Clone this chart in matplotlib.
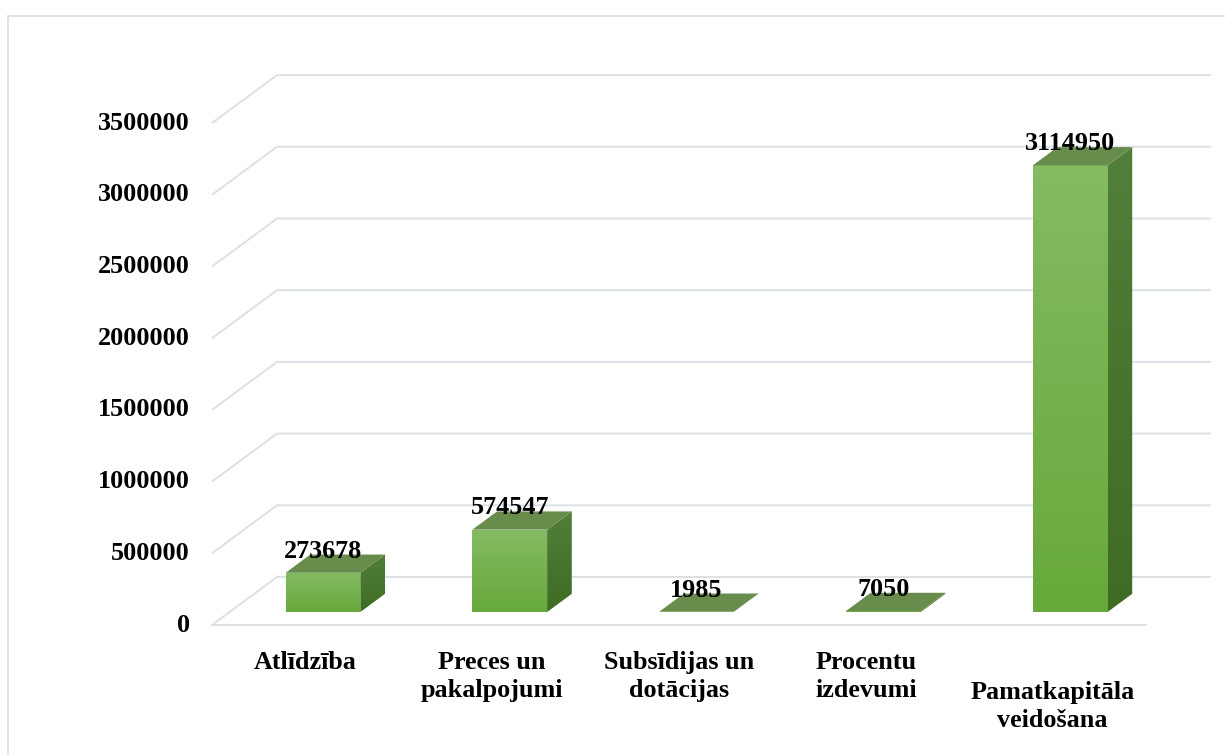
import numpy as np
import matplotlib
matplotlib.use("Agg")
import matplotlib.pyplot as plt
from matplotlib.patches import Polygon, Rectangle

# ---- data ----
categories = ["Atlīdzība", "Preces un\npakalpojumi", "Subsīdijas un\ndotācijas",
              "Procentu\nizdevumi", "Pamatkapitāla\nveidošana"]
values = [273678, 574547, 1985, 7050, 3114950]
y_ticks = [0, 500000, 1000000, 1500000, 2000000, 2500000, 3000000, 3500000]
y_tick_labels = [str(t) for t in y_ticks]

# ---- layout constants (pixels) ----
W, H = 1225, 755
FLOOR_LEFT_PX = 212
FLOOR_Y_PX = 625
PX_PER_CAT = 186.8
PX_PER_VAL = 71.7 / 500000
DEPTH_DX_PX = 65
DEPTH_DY_PX = 48

DX = DEPTH_DX_PX / PX_PER_CAT            # depth offset in category units
DY = DEPTH_DY_PX / PX_PER_VAL            # depth offset in value units
n = len(categories)

fig = plt.figure(figsize=(W / 100, H / 100), dpi=100)
ax = fig.add_axes([0, 0, 1, 1])
ax.set_xlim(-0.5 - FLOOR_LEFT_PX / PX_PER_CAT, -0.5 + (W - FLOOR_LEFT_PX) / PX_PER_CAT)
ax.set_ylim(-(H - FLOOR_Y_PX) / PX_PER_VAL, FLOOR_Y_PX / PX_PER_VAL)
ax.axis("off")

px_x = 1 / PX_PER_CAT
px_y = 1 / PX_PER_VAL

def proj(x, d, v):
    return (x + d * DX, v + d * DY)

# outer border
border = Rectangle((ax.get_xlim()[0] + 8 * px_x, ax.get_ylim()[0] - 50 * px_y),
                   (W + 50) * px_x, (H - 16 + 50) * px_y,
                   fill=False, edgecolor="#DCE0E7", linewidth=1.3, zorder=1)
ax.add_patch(border)

grid_c = "#DCE0E7"
left, right = -0.5, n - 0.5
for t in y_ticks:
    xs = [left, left + DX, right + DX]
    ys = [t, t + DY, t + DY]
    ax.plot(xs, ys, color=grid_c, lw=1.4, zorder=2, solid_capstyle="butt")
# front floor line
ax.plot([left, right], [0, 0], color=grid_c, lw=1.4, zorder=2)

# tick labels
font = dict(family="Liberation Serif", fontweight="bold", fontsize=18.8, color="black")
for t, lab in zip(y_ticks, y_tick_labels):
    ax.text(left - 22 * px_x, t, lab, ha="right", va="center", **font, zorder=5)

# bars
bw = 0.4
d0, d1 = 0.27, 0.65

def grad_fill(poly_xy, c_top, c_bot, zorder):
    poly = Polygon(poly_xy, closed=True, facecolor="none", edgecolor="none")
    ax.add_patch(poly)
    xs = [p[0] for p in poly_xy]
    ys = [p[1] for p in poly_xy]
    c1 = np.array(matplotlib.colors.to_rgb(c_top))
    c2 = np.array(matplotlib.colors.to_rgb(c_bot))
    tt = np.linspace(0, 1, 256)[:, None]
    img = (c1 * (1 - tt) + c2 * tt)[:, None, :]
    im = ax.imshow(img, extent=[min(xs), max(xs), min(ys), max(ys)], origin="upper",
                   aspect="auto", zorder=zorder, interpolation="bilinear")
    im.set_clip_path(poly)

for i, v in enumerate(values):
    xl, xr = i - bw / 2, i + bw / 2
    # front face
    front = [proj(xl, d0, 0), proj(xr, d0, 0), proj(xr, d0, v), proj(xl, d0, v)]
    if v * PX_PER_VAL > 1:
        grad_fill(front, "#84BB63", "#67A93A", 4)
    # side face
    side = [proj(xr, d0, 0), proj(xr, d1, 0), proj(xr, d1, v), proj(xr, d0, v)]
    if v * PX_PER_VAL > 1:
        grad_fill(side, "#527F39", "#3F6C24", 4)
    # top face
    top = [proj(xl, d0, v), proj(xr, d0, v), proj(xr, d1, v), proj(xl, d1, v)]
    ax.add_patch(Polygon(top, closed=True, facecolor="#678C4C", edgecolor="none", zorder=4))
    # value label
    lx, ly = proj(i, d0, v)
    ax.text(lx, v + d1 * DY - 3 * px_y, str(v), ha="center", va="baseline", **font, zorder=6)

# category labels
for i, lab in enumerate(categories):
    extra = 30 if i == n - 1 else 0
    ax.text(i, -(26 + extra) * px_y, lab, ha="center", va="top", linespacing=1.3,
            **font, zorder=5)

fig.savefig("out.png", dpi=100)
